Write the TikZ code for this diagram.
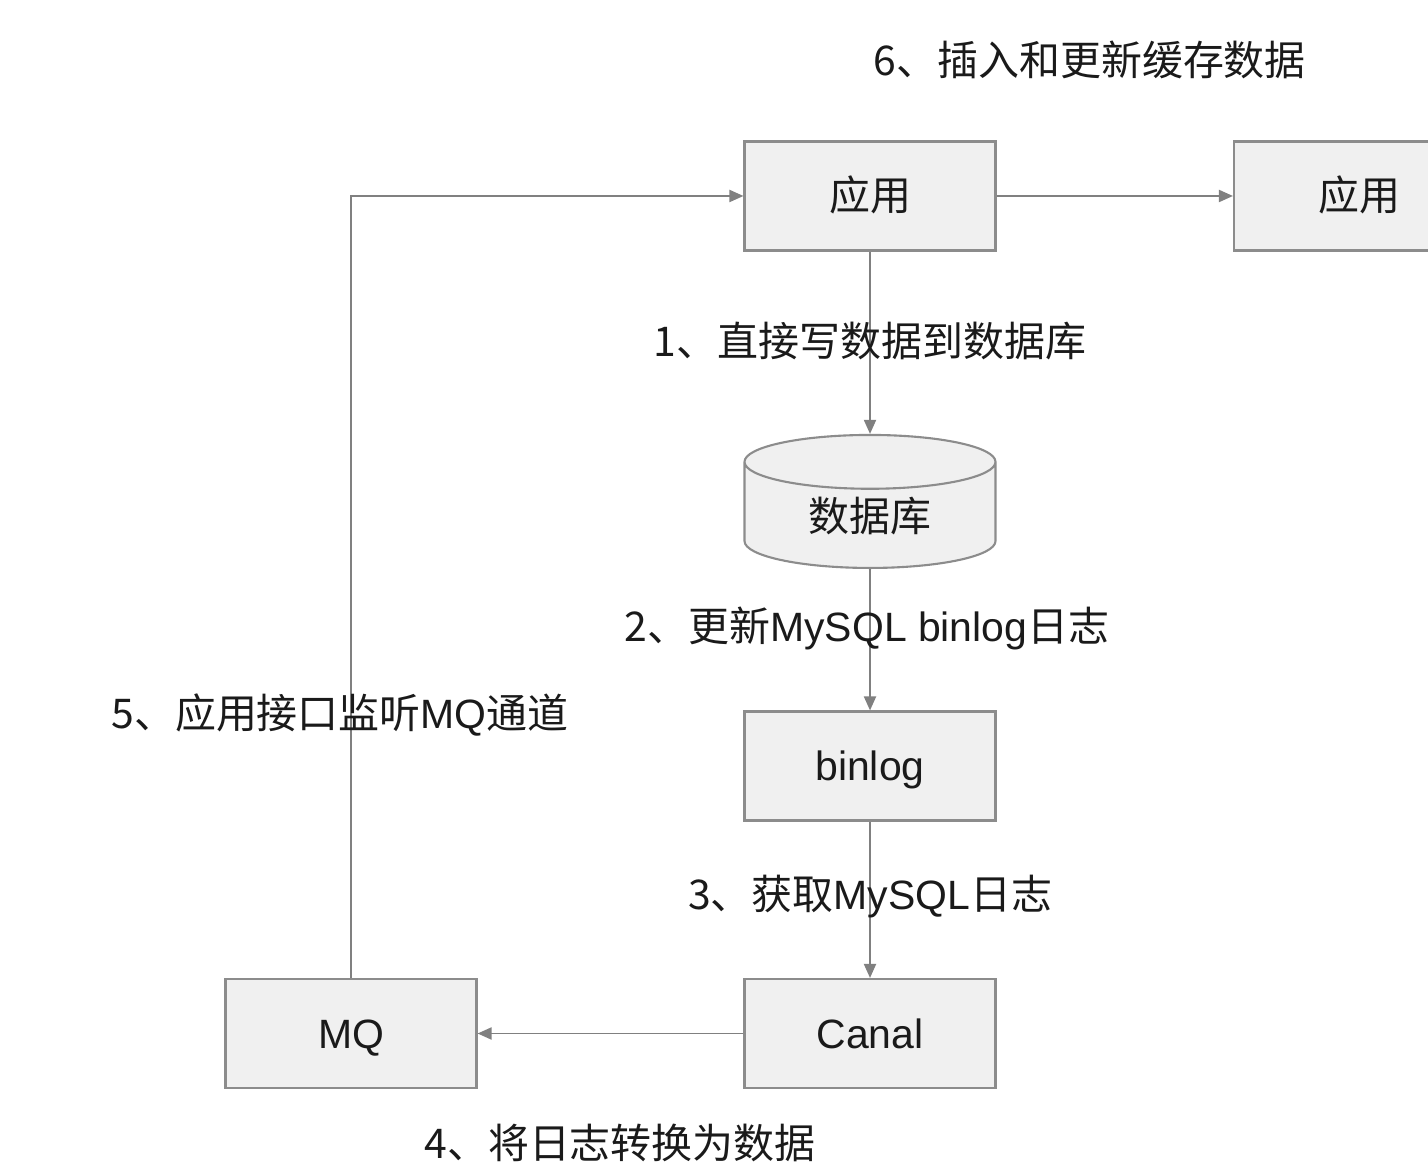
\documentclass[tikz,border=0pt]{standalone}
\usepackage{fontspec}
\setmainfont{Liberation Sans}
\newfontfamily\cjk{Noto Sans CJK SC}
\usepackage{xcolor}
\usetikzlibrary{shapes, arrows.meta}
\definecolor{boxfill}{HTML}{F0F0F0}
\definecolor{boxline}{HTML}{8C8C8C}
\definecolor{flowline}{HTML}{808080}
\definecolor{textcol}{HTML}{1A1A1A}
\tikzstyle{block} = [draw=boxline, fill=boxfill, rectangle, minimum height=2.18cm, minimum width=5.02cm, line width=1.2pt, text height=20pt, text depth=3pt]
\tikzstyle{flow} = [draw=flowline, line width=1.1pt]

\begin{document}
\begin{tikzpicture}[node distance=5.3cm, >={Triangle[length=0.28cm, width=0.24cm]}, font=\fontsize{23.3}{28}\selectfont, text=textcol]
        % 样式定义
        \tikzstyle{database} = [draw=boxline, fill=boxfill, cylinder, shape border rotate=90, aspect=0.4, minimum width=5.02cm, minimum height=2.66cm, line width=1.2pt, text height=15.2pt, text depth=2pt]
        \tikzstyle{tag} = [inner sep=0pt]

        \clip (0,0) rectangle (28.56,23.44);

        % 放置节点
        \node [block, at={(17.4,19.52)}] (app) {{\cjk 应用}};
        \node [block, right of=app, node distance=9.79cm] (cacheapp) {{\cjk 应用}};
        \node [database, below of=app, node distance=6.47cm] (db) {{\cjk 数据库}};
        \node [block, below of=db, node distance=4.93cm] (binlog) {binlog};
        \node [block, below of=binlog, node distance=5.35cm] (canal) {Canal};
        \node [block, left of=canal, node distance=10.38cm] (mq) {MQ};

        \draw [flow, ->] (app) -- node [tag, name=l1, pos=0.49] {{\cjk 1、直接写数据到数据库}} (db);
        \draw [flow, ->] (db) -- node [tag, name=l2, pos=0.42, xshift=-0.06cm] {{\cjk 2、更新}MySQL binlog{\cjk 日志}} (binlog);
        \draw [flow, ->] (binlog) -- node [tag, name=l3, pos=0.48] {{\cjk 3、获取}MySQL{\cjk 日志}} (canal);
        \draw [flow, ->] (canal) -- node [tag, name=l4, xshift=0.19cm, yshift=-2.18cm] {{\cjk 4、将日志转换为数据}} (mq);
        \draw [flow, ->] (mq) |- node [tag, name=l5, pos=0.168, xshift=-0.22cm] {{\cjk 5、应用接口监听}MQ{\cjk 通道}} (app);
        \draw [flow, ->] (app) -- node [tag, name=l6, xshift=-0.5cm, yshift=2.72cm] {{\cjk 6、插入和更新缓存数据}} (cacheapp);
    \end{tikzpicture}
\end{document}
